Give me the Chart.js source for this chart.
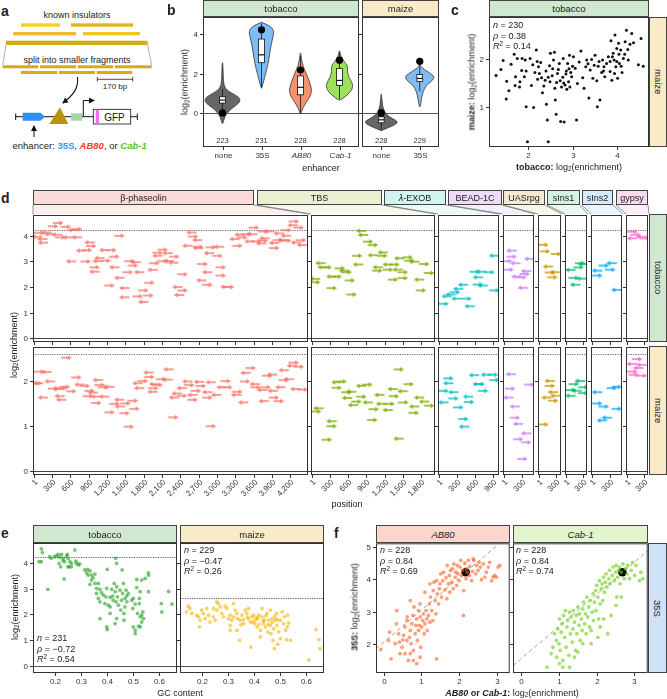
<!DOCTYPE html>
<html>
<head>
<meta charset="utf-8">
<title>insulator fragments</title>
<script src="https://cdn.jsdelivr.net/npm/chart.js@4.4.1/dist/chart.umd.min.js"></script>
<style>
  body { margin:0; width:667px; height:699px; position:relative; overflow:hidden; background:#fff;
         font-family:"Liberation Sans", Arial, Helvetica, sans-serif; color:#222; }
  svg { position:absolute; left:0; top:0; z-index:0; }
  canvas { position:absolute; z-index:1; }
  .t { position:absolute; white-space:nowrap; font-size:9px; line-height:1; z-index:2; }
  .strip { position:absolute; box-sizing:border-box; border:1px solid #444; display:flex; z-index:2;
           align-items:center; justify-content:center; font-size:9.5px; color:#222; }
  .strip .v { writing-mode:vertical-rl; }
  .letter { position:absolute; font-weight:bold; font-size:14px; line-height:1; z-index:2; }
  sub { font-size:70%; vertical-align:-0.25em; line-height:0; }
  sup { font-size:70%; vertical-align:0.45em; line-height:0; }
</style>
</head>
<body>
<svg width="667" height="699" font-family="Liberation Sans, Arial, sans-serif">
  <defs>
    <marker id="ah" viewBox="0 0 6 6" refX="5" refY="3" markerWidth="6" markerHeight="6" markerUnits="userSpaceOnUse" orient="auto">
      <path d="M0,0 L6,3 L0,6 z" fill="#111"/>
    </marker>
  </defs>
  <g id="diagram">
    <text x="77" y="17.5" font-size="9" text-anchor="middle" fill="#222">known insulators</text>
    <rect x="21" y="23.3" width="39" height="3.4" fill="#f7d21c"/>
    <rect x="71" y="23.3" width="62" height="3.4" fill="#e8b21e"/>
    <rect x="13.3" y="32" width="62.7" height="3.4" fill="#f5b730"/>
    <rect x="83" y="32" width="57" height="3.4" fill="#f2c81a"/>
    <rect x="6" y="40.7" width="141.7" height="4.3" fill="#d6ab16"/>
    <path d="M6,45 L2.7,65.3 M147.7,45 L151.7,65.3" stroke="#999" stroke-width="0.8" fill="none"/>
    <text x="77" y="63" font-size="9" text-anchor="middle" fill="#222">split into smaller fragments</text>
    <g fill="#d6ab16">
      <rect x="2.7" y="65.3" width="35.6" height="3"/>
      <rect x="40" y="65.3" width="36" height="3"/>
      <rect x="77.7" y="65.3" width="35.6" height="3"/>
      <rect x="115" y="65.3" width="36.7" height="3"/>
      <rect x="21" y="71" width="36.3" height="3"/>
      <rect x="59" y="71" width="36" height="3"/>
      <rect x="96.7" y="71" width="35.6" height="3"/>
    </g>
    <path d="M97.3,79.3 H132.7 M97.3,77 V81.6 M132.7,77 V81.6" stroke="#222" stroke-width="0.8" fill="none"/>
    <text x="115" y="88.5" font-size="8" text-anchor="middle" fill="#222">170 bp</text>
    <path d="M77.5,77 C79,89 72,96 63,103" stroke="#111" stroke-width="1.1" fill="none" marker-end="url(#ah)"/>
    <path d="M15.7,116.7 H137.3 M15.7,113.5 V120 M137.3,113.5 V120" stroke="#111" stroke-width="1" fill="none"/>
    <path d="M22.7,112.7 H40.5 L45,116.7 L40.5,120.7 H22.7 Z" fill="#2e8ff0"/>
    <path d="M60,107.3 L68.3,124 L49.3,124 Z" fill="#b8940c"/>
    <rect x="71" y="113.3" width="11.3" height="7.4" fill="#a3d6a3"/>
    <path d="M83.3,116.7 V100.5 H94" stroke="#111" stroke-width="1" fill="none" marker-end="url(#ah)"/>
    <rect x="93.3" y="109.3" width="37.4" height="14.7" fill="#fff" stroke="#111" stroke-width="0.8"/>
    <rect x="95.7" y="109.8" width="3.3" height="13.7" fill="#f56ff0"/>
    <text x="114.5" y="120.5" font-size="10" text-anchor="middle" fill="#111">GFP</text>
    <path d="M34,137 V126" stroke="#111" stroke-width="1" fill="none" marker-end="url(#ah)"/>
    <text x="12.5" y="148.5" font-size="9.5" fill="#222">enhancer: <tspan fill="#2d9bf0" font-weight="bold">35S</tspan>, <tspan fill="#ff3c1e" font-weight="bold" font-style="italic">AB80</tspan>, or <tspan fill="#5cc414" font-weight="bold" font-style="italic">Cab-1</tspan></text>
  </g>
  <g id="connectors"></g>
</svg>
<script>
Chart.defaults.font.family = '"Liberation Sans", Arial, sans-serif';
const FONT = '"Liberation Sans", Arial, sans-serif';

/* ---------- b: enhancer violins ---------- */
const bEnhTob = ['none', '35S', 'AB80', 'Cab-1'];
const bEnhMaize = ['none', '35S'];
const bCountTob = [223, 231, 228, 228];
const bCountMaize = [228, 229];
const bRefTob = [0, 4.22, 2.18, 2.68];
const bRefMaize = [0, 2.62];
// [lower whisker, q1, median, q3, upper whisker]
const bBoxTob = [[0.1, 0.5, 0.65, 0.82, 1.2], [1.3, 2.55, 2.95, 3.75, 4.55], [0.0, 0.92, 1.3, 1.88, 2.9], [0.7, 1.4, 1.65, 2.25, 3.1]];
const bBoxMaize = [[-0.85, -0.5, -0.35, -0.2, 0.2], [1.1, 1.6, 1.75, 1.95, 2.4]];
// violin outlines: [log2 enrichment, half width]
const vTobNone = [[-0.55,0.005],[-0.4,0.03],[-0.2,0.06],[0,0.12],[0.2,0.22],[0.4,0.36],[0.55,0.44],[0.7,0.45],[0.85,0.38],[1.0,0.24],[1.15,0.12],[1.3,0.06],[1.5,0.03],[1.8,0.02],[2.2,0.015],[2.55,0.005]];
const vTob35S = [[1.25,0.005],[1.5,0.04],[1.8,0.08],[2.1,0.12],[2.5,0.17],[3.0,0.21],[3.5,0.25],[3.9,0.3],[4.15,0.32],[4.35,0.26],[4.5,0.12],[4.6,0.005]];
const vTobAB80 = [[-0.05,0.005],[0.2,0.05],[0.5,0.13],[0.8,0.24],[1.1,0.29],[1.4,0.26],[1.8,0.19],[2.2,0.1],[2.5,0.05],[2.8,0.02],[3.05,0.005]];
const vTobCab = [[0.65,0.005],[0.75,0.1],[0.95,0.22],[1.2,0.33],[1.5,0.34],[1.8,0.24],[2.1,0.2],[2.4,0.21],[2.6,0.12],[2.9,0.03],[3.15,0.005]];
const vMaizeNone = [[-0.9,0.005],[-0.75,0.18],[-0.6,0.36],[-0.45,0.44],[-0.3,0.3],[-0.1,0.14],[0.1,0.08],[0.3,0.04],[0.6,0.02],[0.95,0.005]];
const vMaize35S = [[0.3,0.005],[0.5,0.03],[0.8,0.05],[1.1,0.09],[1.4,0.17],[1.6,0.3],[1.75,0.37],[1.9,0.36],[2.1,0.2],[2.3,0.05],[2.45,0.005]];

/* ---------- c: tobacco vs maize ---------- */
const cPoints = [[1.27,1.66],[1.38,1.78],[1.43,1.97],[1.51,1.54],[1.56,1.34],[1.50,1.17],[1.61,1.89],[1.68,2.10],[1.71,1.63],[1.75,2.01],[1.80,1.42],[1.81,1.53],[1.85,1.76],[1.86,2.01],[1.91,1.63],[1.93,1.98],[1.95,1.01],[1.98,0.28],[2.04,2.01],[2.07,1.45],[2.10,1.88],[2.12,0.99],[2.15,1.72],[2.18,2.19],[2.21,1.58],[2.23,1.84],[2.28,1.93],[2.30,1.61],[2.32,1.30],[2.35,1.44],[2.38,1.56],[2.40,1.75],[2.41,1.06],[2.43,0.73],[2.45,0.28],[2.48,1.86],[2.49,1.53],[2.50,2.12],[2.54,1.65],[2.57,1.98],[2.59,2.14],[2.60,1.39],[2.61,1.15],[2.63,0.85],[2.64,1.51],[2.68,1.78],[2.70,1.91],[2.73,0.70],[2.75,1.42],[2.78,1.62],[2.79,2.01],[2.81,0.69],[2.83,1.46],[2.85,1.69],[2.87,1.37],[2.89,1.91],[2.91,1.53],[2.93,2.08],[2.94,1.42],[2.98,1.63],[3.02,2.05],[3.06,1.81],[3.09,0.73],[3.11,1.49],[3.15,1.94],[3.19,2.17],[3.23,1.61],[3.26,1.39],[3.30,1.84],[3.32,1.98],[3.37,1.19],[3.40,1.77],[3.43,1.99],[3.46,1.60],[3.49,1.87],[3.51,2.08],[3.55,1.55],[3.56,1.01],[3.58,1.85],[3.62,1.15],[3.66,1.72],[3.68,1.98],[3.71,1.84],[3.73,1.63],[3.77,1.91],[3.81,2.05],[3.85,1.74],[3.87,2.38],[3.89,1.56],[3.92,2.12],[3.94,1.98],[3.96,2.50],[3.98,1.84],[4.00,2.22],[4.02,1.60],[4.04,2.33],[4.06,1.91],[4.09,2.19],[4.12,1.72],[4.15,2.01],[4.19,2.36],[4.22,2.60],[4.26,1.98],[4.30,2.31],[4.34,2.53],[4.38,2.34],[4.49,1.88],[4.55,2.43],[2.25,1.70],[2.45,1.62],[2.55,1.80],[2.66,1.70],[2.72,1.55],[2.80,1.50],[2.86,1.75],[2.92,1.80],[2.96,1.72],[3.00,1.85],[3.85,1.95],[3.90,2.05],[3.95,1.70],[4.00,1.95],[4.05,2.10],[4.10,1.85],[4.18,2.10],[4.25,2.20],[4.60,1.85],[3.70,1.75],[3.60,1.95],[3.35,1.90],[2.20,1.95],[1.95,1.75],[1.70,1.45]];

/* ---------- d: fragments along each insulator, [midpoint bp, log2 enrichment, strand] ---------- */
const dNames = ['β-phaseolin', 'TBS', '<i>λ</i>-EXOB', 'BEAD-1C', 'UASrpg', 'sIns1', 'sIns2', 'gypsy'];
const dTicks = [[1,300,600,900,1200,1500,1800,2100,2400,2700,3000,3300,3600,3900,4200],[1,300,600,900,1200,1500,1800],[1,300,600,900],[1,300],[1,300],[1,300],[1,300],[1,300]];
const dRefTob = 4.22, dRefMaize = 2.62;
const phasTob = [[87,4.12,1],[207,4.13,-1],[315,4.37,1],[397,4.50,1],[522,4.35,1],[54,3.96,-1],[141,3.87,-1],[152,3.73,-1],[261,4.06,-1],[380,4.04,-1],[435,3.94,1],[560,3.94,-1],[641,4.22,-1],[707,4.26,1],[707,3.94,-1],[614,3.0,-1],[848,3.0,1],[777,3.42,-1],[870,3.44,1],[913,3.74,-1],[940,3.60,1],[1158,3.44,-1],[1266,3.44,1],[1076,3.13,-1],[1321,3.19,1],[1049,3.01,-1],[1174,3.03,1],[995,2.77,1],[1321,2.77,-1],[995,2.60,-1],[1402,2.36,-1],[1239,2.06,1],[1484,1.96,-1],[1484,1.60,-1],[1402,4.0,1],[1565,3.01,1],[1674,2.97,-1],[1620,2.84,1],[1538,2.58,1],[1728,2.58,-1],[1701,1.64,1],[1794,1.87,1],[1794,1.42,-1],[1875,1.67,1],[1891,2.17,1],[1946,2.67,-1],[1973,2.93,1],[2027,3.22,-1],[2027,3.34,1],[2109,3.46,1],[2190,3.32,-1],[2109,3.01,1],[2217,3.01,-1],[2283,2.95,-1],[2299,3.19,1],[2435,2.50,1],[2353,2.0,-1],[2435,1.87,1],[2380,1.69,-1],[2516,3.61,-1],[2690,3.57,1],[2582,4.13,-1],[2609,3.97,1],[2679,3.83,-1],[2690,3.52,-1],[2761,2.90,1],[2842,2.58,-1],[2745,2.26,-1],[2842,2.09,1],[2897,3.55,1],[3033,3.57,-1],[2870,3.32,-1],[3006,3.22,1],[3060,2.77,1],[3060,2.45,1],[3141,2.01,-1],[3196,2.0,1],[3332,3.61,1],[3288,3.87,-1],[3413,3.94,1],[3370,4.04,-1],[3478,4.06,1],[3576,4.06,-1],[3603,4.32,1],[3533,3.78,-1],[3641,3.78,1],[3723,3.70,-1],[3750,3.81,1],[3777,3.90,-1],[3750,4.17,1],[3859,4.17,-1],[4011,4.09,-1],[3935,3.72,-1],[3935,3.52,1],[3995,3.83,1],[4076,3.83,-1],[4131,3.81,1],[4131,4.0,-1],[4131,4.22,1],[4239,4.41,-1],[4256,4.56,1],[4337,4.32,1],[4294,3.74,-1],[4375,3.83,1],[4392,3.64,-1]];
const phasMaize = [[533,2.53,1],[87,2.22,1],[207,2.21,-1],[71,1.96,-1],[43,1.96,1],[261,2.0,-1],[315,1.84,1],[451,1.85,1],[505,1.88,1],[397,1.83,-1],[614,1.78,1],[152,1.64,-1],[424,1.67,-1],[451,1.59,-1],[696,2.09,1],[750,1.93,-1],[832,1.90,1],[913,1.79,1],[886,1.67,1],[967,1.75,-1],[1022,1.66,-1],[1022,1.52,1],[1049,2.03,-1],[1076,1.92,1],[1130,1.87,1],[1239,1.88,-1],[1158,1.66,-1],[1239,1.31,1],[1321,1.50,1],[1402,1.59,-1],[1413,1.44,-1],[1500,1.51,1],[1484,1.29,1],[1620,1.57,1],[1647,1.39,1],[1554,0.99,1],[1701,1.96,-1],[1728,1.85,-1],[1783,2.01,1],[1880,2.20,-1],[1891,2.10,1],[1973,1.94,-1],[1957,1.85,1],[1946,1.77,-1],[2082,2.05,1],[2190,2.04,-1],[2027,1.92,1],[2207,2.27,-1],[2283,1.20,1],[2299,1.64,-1],[2342,1.73,-1],[2424,1.68,1],[2424,1.85,-1],[2516,2.0,-1],[2544,1.92,1],[2707,1.99,-1],[2734,1.90,1],[2652,1.79,1],[2598,1.70,-1],[2598,1.59,1],[2842,1.64,1],[2842,1.76,-1],[2897,1.98,-1],[2897,1.0,1],[2989,1.70,-1],[3076,1.87,-1],[3141,2.01,1],[3168,1.87,1],[3315,1.70,-1],[3332,1.77,1],[3430,1.53,-1],[3457,2.0,1],[3468,2.19,-1],[3549,2.30,1],[3620,1.94,-1],[3630,1.87,1],[3739,1.81,-1],[3794,1.87,1],[3766,1.56,-1],[3821,2.13,1],[3902,2.15,-1],[3913,1.79,-1],[3929,1.64,1],[4011,1.56,1],[4038,1.87,-1],[4093,2.03,1],[4174,2.05,-1],[4093,2.25,-1],[4256,2.42,1],[4228,2.35,-1],[4337,2.33,1],[4283,1.83,-1],[4402,1.82,1]];
const tbsTob = [[815,4.19,-1],[842,4.03,-1],[924,3.77,1],[1005,3.64,1],[1169,3.35,-1],[745,3.22,1],[1005,3.24,-1],[1158,3.22,1],[761,2.88,-1],[1440,3.12,-1],[1576,3.16,1],[1603,3.03,1],[1685,2.99,-1],[1848,2.90,1],[1929,2.55,1],[1087,2.77,-1],[1076,2.64,1],[1250,2.88,-1],[1359,2.88,1],[1250,2.68,1],[1413,2.68,-1],[1495,2.58,1],[1332,2.29,1],[1495,2.35,1],[1766,2.29,-1],[1794,1.87,1],[147,2.93,-1],[179,2.77,-1],[245,2.77,1],[326,2.41,-1],[408,2.41,1],[462,2.73,1],[533,2.64,-1],[571,2.58,1],[54,2.32,-1],[54,2.19,1],[625,2.26,1],[326,1.96,1],[652,1.71,1]];
const tbsMaize = [[1429,2.27,1],[408,1.98,-1],[489,2.0,1],[408,1.86,1],[571,1.76,1],[652,1.77,-1],[815,1.90,-1],[913,1.93,1],[582,1.63,-1],[815,1.66,1],[734,1.55,1],[679,1.47,-1],[924,1.53,-1],[1114,1.70,-1],[1332,1.83,-1],[1348,1.67,1],[1495,1.78,-1],[1592,1.94,1],[1766,1.64,-1],[1848,1.55,-1],[1929,1.46,1],[1685,1.44,-1],[1674,1.30,1],[1505,1.53,1],[1277,1.50,1],[1141,1.50,-1],[1016,1.38,1],[1250,1.36,-1],[995,1.14,1],[109,1.40,-1],[71,1.33,1],[326,1.11,-1],[326,1.0,1],[245,0.70,1],[1429,0.72,-1]];
const lamTob = [[79,1.35,1],[133,1.64,-1],[198,1.71,-1],[269,1.80,1],[323,1.93,-1],[405,2.09,-1],[296,1.55,-1],[459,1.55,1],[513,1.25,-1],[595,2.60,1],[704,2.60,-1],[840,2.58,1],[649,2.38,-1],[649,2.10,1],[731,2.06,-1],[921,3.22,-1],[921,1.87,1]];
const lamMaize = [[160,2.07,1],[160,1.96,-1],[79,1.79,1],[242,1.76,-1],[79,1.53,-1],[242,1.62,1],[323,1.42,1],[405,1.16,1],[421,0.99,-1],[486,1.66,-1],[502,1.54,1],[584,2.14,-1],[676,1.94,1],[731,1.79,1],[786,2.15,-1],[895,2.15,1],[921,2.03,1],[649,1.94,-1]];
const beadTob = [[133,3.42,-1],[133,3.19,1],[52,3.01,1],[198,2.93,-1],[432,3.10,-1],[79,2.68,1],[378,2.62,-1],[350,2.51,1],[215,2.41,-1],[296,2.38,1],[323,1.97,-1]];
const beadMaize = [[122,2.16,-1],[432,1.93,1],[106,1.84,1],[79,1.64,-1],[187,1.44,-1],[187,1.19,1],[242,1.05,-1],[378,0.84,-1],[242,0.71,1],[378,0.64,1],[312,0.27,1]];
const uasTob = [[79,3.65,1],[106,3.39,1],[296,3.29,1],[160,2.80,-1],[187,2.57,1],[285,2.58,-1],[231,2.38,1]];
const uasMaize = [[187,2.01,-1],[187,1.90,1],[242,1.76,-1],[285,1.68,-1],[133,1.64,-1],[242,1.57,1],[79,1.04,1]];
const sins1Tob = [[82,2.67,-1],[245,2.93,1],[299,2.90,-1],[217,2.77,1],[136,2.36,1],[272,2.33,-1],[163,2.09,-1]];
const sins1Maize = [[245,2.01,-1],[136,1.94,1],[82,1.81,1],[190,1.79,-1],[299,1.87,1],[299,1.74,1],[82,1.68,-1]];
const sins2Tob = [[92,2.64,-1],[201,2.84,1],[337,2.93,-1],[310,2.68,1],[92,2.45,1],[418,1.89,-1]];
const sins2Maize = [[92,1.76,-1],[337,1.85,1],[418,1.88,1],[92,1.51,1],[201,1.44,1],[418,1.39,1],[255,1.19,-1],[174,1.13,-1]];
const gypTob = [[92,4.16,1],[147,4.04,1],[255,3.96,-1],[92,3.90,-1],[310,3.90,1]];
const gypMaize = [[174,2.50,1],[92,2.39,-1],[255,2.37,-1],[201,2.30,-1],[92,2.22,1],[120,2.15,1],[255,2.13,1]];

/* ---------- e: GC content ---------- */
const eTob = [[0.149,4.53],[0.153,4.39],[0.140,4.04],[0.149,4.04],[0.181,4.23],[0.187,4.17],[0.200,4.23],[0.206,4.26],[0.213,4.32],[0.219,4.21],[0.226,4.32],[0.232,4.17],[0.217,3.97],[0.223,3.84],[0.232,4.08],[0.238,4.04],[0.245,4.26],[0.251,4.17],[0.251,3.84],[0.258,4.04],[0.264,3.97],[0.249,4.32],[0.255,3.84],[0.264,3.84],[0.277,4.49],[0.281,4.06],[0.283,3.97],[0.290,3.91],[0.296,3.95],[0.236,3.37],[0.174,2.97],[0.315,3.72],[0.322,3.61],[0.326,3.74],[0.335,3.68],[0.328,3.52],[0.341,3.52],[0.341,3.33],[0.347,3.42],[0.354,3.56],[0.335,3.16],[0.354,3.20],[0.360,3.01],[0.367,3.20],[0.373,2.97],[0.360,2.81],[0.367,2.62],[0.373,2.49],[0.379,2.84],[0.386,2.75],[0.392,2.42],[0.396,2.68],[0.399,3.01],[0.401,3.74],[0.405,2.36],[0.412,2.29],[0.412,2.66],[0.412,2.04],[0.418,2.97],[0.422,2.71],[0.424,2.55],[0.428,3.20],[0.431,2.88],[0.433,4.17],[0.435,2.49],[0.437,3.97],[0.437,3.07],[0.440,2.68],[0.444,2.36],[0.450,2.94],[0.453,2.17],[0.456,2.55],[0.458,3.72],[0.460,2.81],[0.463,3.20],[0.465,2.04],[0.469,2.62],[0.469,2.29],[0.473,2.94],[0.476,2.49],[0.476,2.72],[0.482,2.81],[0.465,1.78],[0.437,1.84],[0.399,1.52],[0.373,1.84],[0.431,1.65],[0.495,2.55],[0.499,2.23],[0.501,2.62],[0.508,2.40],[0.514,3.04],[0.517,2.04],[0.524,2.62],[0.527,2.88],[0.524,2.42],[0.501,1.52],[0.508,1.39],[0.521,1.55],[0.527,1.52],[0.533,1.71],[0.533,1.97],[0.537,2.10],[0.527,1.91],[0.540,1.84],[0.514,3.35],[0.533,3.33],[0.546,3.39],[0.559,3.61],[0.559,3.52],[0.559,2.88],[0.610,2.10],[0.608,2.42],[0.636,2.89],[0.649,2.40],[0.401,1.42],[0.508,1.26]];
const eMaize = [[0.149,2.32],[0.155,2.23],[0.162,2.04],[0.142,2.10],[0.181,1.97],[0.187,1.91],[0.194,1.78],[0.191,1.52],[0.206,2.04],[0.213,1.84],[0.219,2.23],[0.226,1.97],[0.232,1.71],[0.245,1.91],[0.251,1.78],[0.258,2.17],[0.264,2.42],[0.258,2.49],[0.271,2.29],[0.277,2.04],[0.283,1.91],[0.290,2.32],[0.296,2.23],[0.303,1.84],[0.309,1.97],[0.315,1.78],[0.309,1.58],[0.322,1.91],[0.328,2.17],[0.335,2.04],[0.337,1.84],[0.345,1.00],[0.347,1.78],[0.354,1.97],[0.360,1.65],[0.367,2.17],[0.373,2.04],[0.379,1.84],[0.386,1.71],[0.388,0.74],[0.392,1.91],[0.399,1.97],[0.403,1.65],[0.405,1.78],[0.412,1.52],[0.414,1.84],[0.418,1.97],[0.424,1.39],[0.431,1.91],[0.437,1.65],[0.440,1.78],[0.444,1.52],[0.450,2.04],[0.453,1.33],[0.456,1.78],[0.463,1.58],[0.465,1.26],[0.469,1.84],[0.473,1.00],[0.476,1.45],[0.478,0.68],[0.482,1.78],[0.486,2.04],[0.488,1.58],[0.495,1.33],[0.501,1.78],[0.508,2.10],[0.514,1.65],[0.517,1.91],[0.521,1.39],[0.527,1.52],[0.529,1.97],[0.533,1.67],[0.540,1.00],[0.524,1.03],[0.610,0.25],[0.638,1.42],[0.649,1.03],[0.653,0.68],[0.491,0.85],[0.501,1.07],[0.424,1.13],[0.335,1.39],[0.309,1.39],[0.245,2.23],[0.322,2.42],[0.379,2.23],[0.200,2.17],[0.431,2.23],[0.463,2.17],[0.395,1.70],[0.410,1.88],[0.420,1.62],[0.435,1.75],[0.445,1.95],[0.455,1.62],[0.470,1.70],[0.480,1.92],[0.490,1.80],[0.375,1.90],[0.360,1.80],[0.350,1.60]];
const eStats = [['231', '−0.72', '0.54'], ['229', '−0.47', '0.26']];

/* ---------- f: enhancer vs 35S ---------- */
const fAB80 = [[-0.07,1.82],[0.20,1.53],[0.16,2.36],[0.34,2.62],[0.35,3.03],[0.40,2.31],[0.42,2.05],[0.49,1.89],[0.53,2.26],[0.57,2.52],[0.57,1.69],[0.62,2.72],[0.63,2.83],[0.66,1.48],[0.69,2.20],[0.71,2.41],[0.71,3.34],[0.73,2.00],[0.75,2.62],[0.78,2.88],[0.79,1.79],[0.81,3.14],[0.84,2.31],[0.86,2.57],[0.88,2.77],[0.90,2.10],[0.93,3.03],[0.93,2.41],[0.95,2.57],[0.97,2.83],[0.97,3.24],[0.99,1.89],[1.01,2.52],[1.04,2.72],[1.06,2.93],[1.08,2.31],[1.10,2.62],[1.10,3.60],[1.13,3.03],[1.15,2.77],[1.16,2.41],[1.19,2.88],[1.22,3.24],[1.23,2.67],[1.23,3.86],[1.25,3.45],[1.28,3.03],[1.31,2.72],[1.32,3.65],[1.34,3.91],[1.37,3.34],[1.39,2.93],[1.41,3.96],[1.41,1.53],[1.43,3.55],[1.46,3.24],[1.48,3.71],[1.50,3.86],[1.52,4.17],[1.54,3.45],[1.57,3.96],[1.59,4.22],[1.63,3.67],[1.66,4.05],[1.68,3.40],[1.69,4.43],[1.72,3.86],[1.75,4.12],[1.76,3.60],[1.78,4.28],[1.81,3.91],[1.83,4.33],[1.85,3.71],[1.87,4.48],[1.90,4.07],[1.92,4.22],[1.94,3.81],[1.96,4.43],[1.98,4.17],[2.01,3.96],[2.03,4.38],[2.05,4.59],[2.07,4.12],[2.10,4.28],[2.12,2.88],[2.13,3.65],[2.16,4.50],[2.19,4.02],[2.20,4.33],[2.22,4.22],[2.25,4.59],[2.28,4.12],[2.29,4.40],[2.34,3.96],[2.36,4.25],[2.38,4.64],[2.40,4.59],[2.45,4.17],[2.47,4.43],[2.51,4.28],[2.54,4.53],[2.57,4.38],[2.60,3.99],[2.65,4.48],[2.69,4.07],[2.73,4.22],[2.78,4.38],[2.82,4.53],[2.87,3.96],[2.91,4.07],[2.95,4.12],[3.00,4.07],[3.04,4.38],[3.09,4.43],[0.88,1.38],[0.62,2.10],[0.97,1.58],[0.79,1.48],[0.31,2.00],[0.44,1.69],[0.13,2.10],[0.51,2.12],[0.71,1.69]];
const fCab = [[0.68,1.27],[0.79,1.69],[0.84,1.89],[0.88,2.31],[0.93,2.10],[0.94,1.58],[0.97,2.46],[1.00,2.00],[1.01,2.77],[1.03,1.79],[1.06,2.36],[1.08,2.62],[1.10,1.48],[1.12,2.88],[1.15,2.20],[1.17,3.03],[1.19,1.89],[1.21,2.52],[1.23,2.72],[1.26,1.64],[1.28,2.98],[1.30,2.31],[1.32,2.83],[1.35,2.05],[1.37,2.46],[1.38,3.03],[1.41,2.67],[1.44,1.79],[1.46,2.88],[1.47,2.31],[1.50,3.14],[1.53,2.57],[1.54,2.93],[1.56,2.10],[1.59,2.77],[1.61,2.41],[1.63,3.08],[1.65,3.29],[1.68,2.62],[1.70,2.93],[1.72,2.31],[1.74,3.45],[1.76,2.83],[1.79,3.14],[1.81,2.52],[1.83,3.34],[1.85,2.00],[1.88,2.98],[1.90,3.55],[1.91,2.72],[1.94,3.29],[1.97,3.65],[1.98,3.03],[2.00,3.81],[2.03,3.45],[2.05,2.77],[2.07,3.96],[2.09,3.24],[2.12,3.71],[2.14,3.86],[2.16,3.34],[2.18,4.07],[2.20,3.60],[2.23,3.91],[2.25,4.17],[2.27,3.76],[2.29,2.31],[2.32,4.02],[2.34,4.28],[2.35,3.86],[2.38,2.88],[2.41,4.12],[2.43,4.38],[2.47,3.96],[2.50,4.22],[2.51,4.43],[2.53,3.45],[2.56,4.07],[2.58,4.28],[2.60,4.38],[2.62,3.86],[2.65,4.22],[2.69,4.48],[2.73,4.02],[2.76,4.33],[2.80,4.17],[2.82,4.43],[2.87,4.02],[2.91,4.28],[2.95,4.53],[3.00,4.12],[3.04,4.43],[3.13,3.96],[3.17,4.22],[3.22,4.02],[2.09,2.52],[2.18,2.77],[1.85,2.41],[1.63,2.00],[1.50,1.74],[1.10,1.27],[1.01,1.38],[1.28,1.27],[1.41,1.58],[2.03,2.20],[2.51,3.19],[2.65,3.45]];
const fRefAB80 = [2.18, 4.22];
const fRefCab = [2.68, 4.22];
const fStats = [['228', '0.84', '0.69'], ['228', '0.84', '0.74']];

/* ---------- helpers ---------- */
function text(x, y, html, o = {}) {
  const d = document.createElement('div');
  d.className = 't';
  d.innerHTML = html;
  d.style.left = x + 'px';
  d.style.top = y + 'px';
  if (o.size) d.style.fontSize = o.size + 'px';
  if (o.bold) d.style.fontWeight = 'bold';
  const ax = o.align === 'left' ? '0' : o.align === 'right' ? '-100%' : '-50%';
  d.style.transform = `translate(${ax},-50%)` + (o.rot ? ` rotate(${o.rot}deg)` : '');
  document.body.appendChild(d);
  return d;
}
function letter(x, y, s) {
  const d = document.createElement('div');
  d.className = 'letter';
  d.textContent = s;
  d.style.left = x + 'px'; d.style.top = y + 'px';
  document.body.appendChild(d);
}
function strip(x, y, w, h, html, bg, o = {}) {
  const d = document.createElement('div');
  d.className = 'strip';
  Object.assign(d.style, {left: x + 'px', top: y + 'px', width: w + 'px', height: h + 'px', background: bg});
  if (o.size) d.style.fontSize = o.size + 'px';
  d.innerHTML = o.vertical ? `<span class="v">${html}</span>` : html;
  document.body.appendChild(d);
}
function stats(x, y, s) {
  text(x, y, '<i>n</i> = ' + s[0], {align: 'left'});
  text(x, y + 10.5, '<i>ρ</i> = ' + s[1], {align: 'left'});
  text(x, y + 21, '<i>R</i><sup>2</sup> = ' + s[2], {align: 'left'});
}
const pts = arr => arr.map(([x, y]) => ({x, y}));
const dots = (arr, color, r) => ({data: pts(arr), backgroundColor: color, borderWidth: 0, pointRadius: r, pointHoverRadius: r});

// panel frame, reference lines and ticks, drawn through the chart's own scales
const frame = {
  id: 'frame',
  beforeDatasetsDraw(chart) {
    const f = chart.canvas._f, ctx = chart.ctx, a = chart.chartArea;
    const {x, y} = chart.scales;
    ctx.save();
    ctx.beginPath(); ctx.rect(a.left, a.top, a.right - a.left, a.bottom - a.top); ctx.clip();
    (f.hlines || []).forEach(h => {
      const py = Math.round(y.getPixelForValue(h.y)) + 0.5;
      ctx.strokeStyle = h.color || '#555'; ctx.lineWidth = h.width || 1; ctx.setLineDash(h.dash || []);
      ctx.beginPath(); ctx.moveTo(a.left, py); ctx.lineTo(a.right, py); ctx.stroke();
    });
    (f.ablines || []).forEach(l => {
      ctx.strokeStyle = l.color; ctx.lineWidth = 0.9; ctx.setLineDash(l.dash);
      ctx.beginPath();
      ctx.moveTo(x.getPixelForValue(x.min), y.getPixelForValue(l.b + l.m * x.min));
      ctx.lineTo(x.getPixelForValue(x.max), y.getPixelForValue(l.b + l.m * x.max));
      ctx.stroke();
    });
    ctx.setLineDash([]);
    if (f.under) f.under(chart, ctx);
    ctx.restore();
  },
  afterDatasetsDraw(chart) {
    const f = chart.canvas._f, ctx = chart.ctx, a = chart.chartArea;
    const {x, y} = chart.scales;
    ctx.save();
    ctx.strokeStyle = '#333'; ctx.lineWidth = 1;
    ctx.strokeRect(a.left + 0.5, a.top + 0.5, a.right - a.left - 1, a.bottom - a.top - 1);
    ctx.fillStyle = '#333';
    (f.yt || []).forEach((v, i) => {
      const py = Math.round(y.getPixelForValue(v)) + 0.5;
      ctx.beginPath(); ctx.moveTo(a.left - 3, py); ctx.lineTo(a.left, py); ctx.stroke();
      if (!f.yl) return;
      ctx.font = '8px ' + FONT; ctx.textAlign = 'right'; ctx.textBaseline = 'middle';
      ctx.fillText(f.yl[i], a.left - 5, py);
    });
    (f.xt || []).forEach((v, i) => {
      const px = Math.round(x.getPixelForValue(v)) + 0.5;
      ctx.beginPath(); ctx.moveTo(px, a.bottom); ctx.lineTo(px, a.bottom + 3); ctx.stroke();
      if (!f.xl) return;
      ctx.font = (f.xi && f.xi[i] ? 'italic ' : '') + '8px ' + FONT;
      if (f.rot) {
        ctx.save(); ctx.translate(px + 2, a.bottom + 6); ctx.rotate(-Math.PI / 4);
        ctx.textAlign = 'right'; ctx.textBaseline = 'middle'; ctx.fillText(f.xl[i], 0, 0);
        ctx.restore();
      } else {
        ctx.textAlign = 'center'; ctx.textBaseline = 'top'; ctx.fillText(f.xl[i], px, a.bottom + 4.5);
      }
    });
    if (f.counts) {
      ctx.font = '7.5px ' + FONT; ctx.textAlign = 'center'; ctx.textBaseline = 'bottom';
      f.counts.forEach((n, i) => ctx.fillText(n, x.getPixelForValue(i + 1), a.bottom - 2));
    }
    ctx.restore();
  }
};

function panel(b, f, datasets, pad) {
  const P = Object.assign({l: 30, r: 4, t: 4, b: 30}, pad || {});
  const c = document.createElement('canvas');
  const W = b.w + P.l + P.r, H = b.h + P.t + P.b;
  c.width = W; c.height = H;
  Object.assign(c.style, {left: (b.x - P.l) + 'px', top: (b.y - P.t) + 'px', width: W + 'px', height: H + 'px'});
  c._f = f;
  document.body.appendChild(c);
  return new Chart(c, {
    type: 'scatter',
    data: {datasets},
    options: {
      responsive: false, animation: false, devicePixelRatio: 1, events: [],
      layout: {padding: {left: P.l, right: P.r, top: P.t, bottom: P.b}},
      plugins: {legend: {display: false}, tooltip: {enabled: false}},
      scales: {
        x: {type: 'linear', min: f.xmin, max: f.xmax, display: false},
        y: {type: 'linear', min: f.ymin, max: f.ymax, display: false}
      }
    },
    plugins: [frame]
  });
}

// smooth closed outline through points
function smoothPath(ctx, p) {
  const n = p.length, mid = (a, b) => [(a[0] + b[0]) / 2, (a[1] + b[1]) / 2];
  let m = mid(p[n - 1], p[0]);
  ctx.beginPath(); ctx.moveTo(m[0], m[1]);
  for (let k = 0; k < n; k++) {
    const q = mid(p[k], p[(k + 1) % n]);
    ctx.quadraticCurveTo(p[k][0], p[k][1], q[0], q[1]);
  }
  ctx.closePath();
}
function violins(shapes, boxes, colors) {
  return (chart, ctx) => {
    const {x, y} = chart.scales;
    shapes.forEach((s, i) => {
      const c = i + 1, p = [];
      s.forEach(([v, w]) => p.push([x.getPixelForValue(c + w), y.getPixelForValue(v)]));
      for (let k = s.length - 1; k >= 0; k--) p.push([x.getPixelForValue(c - s[k][1]), y.getPixelForValue(s[k][0])]);
      smoothPath(ctx, p);
      ctx.fillStyle = colors[i]; ctx.fill();
      ctx.strokeStyle = '#333'; ctx.lineWidth = 0.8; ctx.stroke();
      const [lo, q1, md, q3, hi] = boxes[i];
      const cx = x.getPixelForValue(c), bw = x.getPixelForValue(c + 0.075) - cx;
      ctx.strokeStyle = '#111'; ctx.lineWidth = 0.8;
      ctx.beginPath(); ctx.moveTo(cx, y.getPixelForValue(lo)); ctx.lineTo(cx, y.getPixelForValue(hi)); ctx.stroke();
      const top = y.getPixelForValue(q3), bot = y.getPixelForValue(q1);
      ctx.fillStyle = '#fff'; ctx.fillRect(cx - bw, top, 2 * bw, bot - top);
      ctx.strokeRect(cx - bw, top, 2 * bw, bot - top);
      const pm = y.getPixelForValue(md);
      ctx.lineWidth = 1.2;
      ctx.beginPath(); ctx.moveTo(cx - bw, pm); ctx.lineTo(cx + bw, pm); ctx.stroke();
    });
  };
}

/* ---------- panel a ---------- */
letter(1, 4, 'a');

/* ---------- panel b ---------- */
letter(167, 3, 'b');
strip(203, 0, 156, 17, 'tobacco', '#cfe8cf');
strip(362, 0, 77, 17, 'maize', '#faebc8');
const bY = {ymin: -1.73, ymax: 4.87};
panel({x: 203, y: 17, w: 156, h: 130}, Object.assign({
  xmin: 0.5, xmax: 4.5, yt: [0, 2, 4], yl: ['0', '2', '4'], xt: [1, 2, 3, 4], xl: bEnhTob,
  xi: [false, false, true, true], counts: bCountTob, hlines: [{y: 0, color: '#555'}],
  under: violins([vTobNone, vTob35S, vTobAB80, vTobCab], bBoxTob, ['#666666', '#7fbcf5', '#f4936e', '#9fe05c'])
}, bY), [dots(bRefTob.map((v, i) => [i + 1, v]), '#000', 3.6)]);
panel({x: 362, y: 17, w: 77, h: 130}, Object.assign({
  xmin: 0.5, xmax: 2.5, yt: [0, 2, 4], xt: [1, 2], xl: bEnhMaize, counts: bCountMaize,
  hlines: [{y: 0, color: '#555'}],
  under: violins([vMaizeNone, vMaize35S], bBoxMaize, ['#666666', '#7fbcf5'])
}, bY), [dots(bRefMaize.map((v, i) => [i + 1, v]), '#000', 3.6)]);
text(185, 82, 'log<sub>2</sub>(enrichment)', {rot: -90});
text(321, 168, 'enhancer');

/* ---------- panel c ---------- */
letter(451, 3, 'c');
strip(489, 0, 160, 17, 'tobacco', '#cfe8cf');
strip(649, 17, 18, 130, 'maize', '#faebc8', {vertical: true});
panel({x: 489, y: 17, w: 160, h: 130}, {
  xmin: 1.11, xmax: 4.73, ymin: 0.17, ymax: 2.875,
  xt: [2, 3, 4], xl: ['2', '3', '4'], yt: [1, 2], yl: ['1', '2']
}, [dots(cPoints, '#111', 1.5)]);
stats(493, 25, ['230', '0.38', '0.14']);
text(472, 82, '<b>maize:</b> log<sub>2</sub>(enrichment)', {rot: -90});
text(569, 167, '<b>tobacco:</b> log<sub>2</sub>(enrichment)');

/* ---------- panel d ---------- */
letter(1, 191, 'd');
const dColors = ['#F8766D', '#7CAE00', '#00BFC4', '#C77CFF', '#CD9600', '#00BE67', '#00A9FF', '#FF61CC'];
const dStripBg = ['#fbdada', '#e9f0d2', '#d3f2f2', '#ecdcf7', '#f5e8cf', '#d3f2e4', '#d6eafa', '#f9dcef'];
const dPanelX = [33, 311, 438, 503, 538, 565, 591, 626];
const dPanelW = [276, 125, 62, 32, 24, 23, 32, 23];
const dStripX = [[33, 254], [257, 382], [384, 446], [448, 502], [503, 545], [547, 580], [582, 613], [616, 648]];
const BP_PER_PX = 16.31;
const dTob = [phasTob, tbsTob, lamTob, beadTob, uasTob, sins1Tob, sins2Tob, gypTob];
const dMaize = [phasMaize, tbsMaize, lamMaize, beadMaize, uasMaize, sins1Maize, sins2Maize, gypMaize];

function arrowImg(color) {
  const c = document.createElement('canvas');
  c.width = 12; c.height = 6;
  const g = c.getContext('2d');
  g.globalAlpha = 0.85;
  g.strokeStyle = color; g.fillStyle = color; g.lineWidth = 1.7;
  g.beginPath(); g.moveTo(0.8, 3); g.lineTo(8.5, 3); g.stroke();
  g.beginPath(); g.moveTo(11.4, 3); g.lineTo(7.4, 0.6); g.lineTo(7.4, 5.4); g.closePath(); g.fill();
  return c;
}
const arrowSet = (arr, img) => ({
  data: arr.map(([x, y, d]) => ({x, y, d})), pointStyle: img, pointRadius: 4, pointHoverRadius: 4,
  rotation: c => (c.raw && c.raw.d < 0 ? 180 : 0)
});

const conn = document.getElementById('connectors');
dNames.forEach((name, i) => {
  const [sl, sr] = dStripX[i], pl = dPanelX[i], pr = dPanelX[i] + dPanelW[i];
  conn.insertAdjacentHTML('beforeend',
    `<polygon points="${sl},205 ${sr},205 ${pr},214 ${pl},214" fill="${dStripBg[i]}" opacity="0.45"/>` +
    `<path d="M${sl},205 L${pl},214 M${sr},205 L${pr},214" stroke="#777" stroke-width="0.8" fill="none"/>`);
  strip(sl, 190, sr - sl, 15, name, dStripBg[i], {size: 9});
  const img = arrowImg(dColors[i]);
  const xmin = -12, xmax = -12 + dPanelW[i] * BP_PER_PX;
  const tl = dTicks[i].map(v => v.toLocaleString('en-US'));
  panel({x: pl, y: 214, w: dPanelW[i], h: 128}, {
    xmin, xmax, ymin: -0.14, ymax: 4.81, xt: dTicks[i],
    yt: [0, 1, 2, 3, 4], yl: i === 0 ? ['0', '1', '2', '3', '4'] : null,
    hlines: [{y: 0, color: '#444'}, {y: dRefTob, color: '#444', width: 0.8, dash: [1.2, 1.2]}]
  }, [arrowSet(dTob[i], img)], {b: 6});
  panel({x: pl, y: 346, w: dPanelW[i], h: 129}, {
    xmin, xmax, ymin: -0.09, ymax: 2.77, xt: dTicks[i], xl: tl, rot: true,
    yt: [0, 1, 2], yl: i === 0 ? ['0', '1', '2'] : null,
    hlines: [{y: 0, color: '#444'}, {y: dRefMaize, color: '#444', width: 0.8, dash: [1.2, 1.2]}]
  }, [arrowSet(dMaize[i], img)], {b: 34});
});
strip(649, 214, 18, 128, 'tobacco', '#cfe8cf', {vertical: true});
strip(649, 346, 18, 129, 'maize', '#faebc8', {vertical: true});
text(14, 345, 'log<sub>2</sub>(enrichment)', {rot: -90});
text(347, 504, 'position');

/* ---------- panel e ---------- */
letter(1, 526, 'e');
strip(33, 525, 144, 18, 'tobacco', '#cfe8cf');
strip(180, 525, 144, 18, 'maize', '#faebc8');
const eAxis = {xmin: 0.117, xmax: 0.668, ymin: -0.26, ymax: 4.76, xt: [0.2, 0.3, 0.4, 0.5, 0.6], xl: ['0.2', '0.3', '0.4', '0.5', '0.6'], yt: [0, 1, 2, 3, 4]};
panel({x: 33, y: 543, w: 144, h: 130}, Object.assign({}, eAxis, {
  yl: ['0', '1', '2', '3', '4'],
  hlines: [{y: 0, color: '#555'}, {y: bRefTob[1], color: '#333', width: 0.8, dash: [1.2, 1.2]}]
}), [dots(eTob, 'rgba(30,160,30,0.6)', 1.9)]);
panel({x: 180, y: 543, w: 144, h: 130}, Object.assign({}, eAxis, {
  hlines: [{y: 0, color: '#555'}, {y: bRefMaize[1], color: '#333', width: 0.8, dash: [1.2, 1.2]}]
}), [dots(eMaize, 'rgba(245,180,0,0.6)', 1.9)]);
stats(37, 638, eStats[0]);
stats(184, 550, eStats[1]);
text(15, 607, 'log<sub>2</sub>(enrichment)', {rot: -90});
text(180, 693, 'GC content');

/* ---------- panel f ---------- */
letter(334, 526, 'f');
strip(376, 525, 134, 18, '<i>AB80</i>', '#fcd5cc');
strip(513, 525, 135, 18, '<i>Cab-1</i>', '#e0f5cc');
strip(648, 543, 19, 130, '35S', '#cfe2f8', {vertical: true});
const fAxis = {ymin: 1.09, ymax: 5.12, xt: [0, 1, 2, 3], xl: ['0', '1', '2', '3'], yt: [2, 3, 4, 5]};
panel({x: 376, y: 543, w: 134, h: 130}, Object.assign({}, fAxis, {
  xmin: -0.2, xmax: 3.35, yl: ['2', '3', '4', '5'],
  ablines: [{m: 1, b: fRefAB80[1] - fRefAB80[0], color: '#999', dash: [4, 3]}]
}), [dots(fAB80, 'rgba(255,95,35,0.6)', 1.9), dots([fRefAB80], '#000', 4.3)]);
panel({x: 513, y: 543, w: 135, h: 130}, Object.assign({}, fAxis, {
  xmin: -0.22, xmax: 3.35,
  ablines: [{m: 1, b: fRefCab[1] - fRefCab[0], color: '#999', dash: [4, 3]}]
}), [dots(fCab, 'rgba(105,205,10,0.6)', 1.9), dots([fRefCab], '#000', 4.3)]);
stats(380, 550, fStats[0]);
stats(516, 550, fStats[1]);
text(355, 607, '<b>35S:</b> log<sub>2</sub>(enrichment)', {rot: -90});
text(512, 693, '<b><i>AB80</i> or <i>Cab-1</i>:</b> log<sub>2</sub>(enrichment)');
</script>
</body>
</html>
